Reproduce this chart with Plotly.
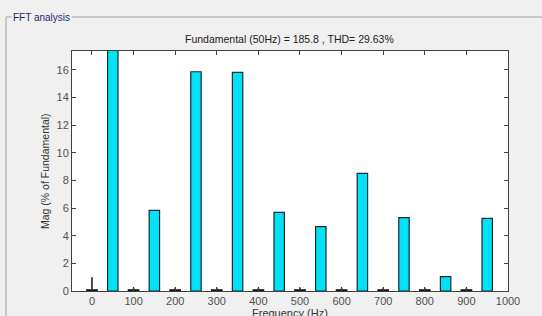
import plotly.graph_objects as go

# Data
odd_freqs = [50, 150, 250, 350, 450, 550, 650, 750, 850, 950]
odd_mag = [100.0, 5.83, 15.85, 15.8, 5.68, 4.65, 8.5, 5.3, 1.04, 5.25]
even_freqs = [0, 100, 200, 300, 400, 500, 600, 700, 800, 900]
even_mag = [0.08, 0.08, 0.08, 0.08, 0.08, 0.08, 0.08, 0.08, 0.08, 0.08]
even_stem = [1.0, 0.25, 0.25, 0.25, 0.25, 0.25, 0.25, 0.25, 0.25, 0.25]
x_ticks = [0, 100, 200, 300, 400, 500, 600, 700, 800, 900, 1000]
y_ticks = [0, 2, 4, 6, 8, 10, 12, 14, 16]

title_text = "Fundamental (50Hz) = 185.8 , THD= 29.63%"
x_title = "Frequency (Hz)"
y_title = "Mag (% of Fundamental)"

fig = go.Figure()
fig.add_trace(go.Bar(x=odd_freqs, y=odd_mag, width=25,
                     marker=dict(color="#00e1fa", line=dict(color="#1a2a30", width=1.2)),
                     showlegend=False))
fig.add_trace(go.Bar(x=even_freqs, y=even_mag, width=25,
                     marker=dict(color="#00e1fa", line=dict(color="#101010", width=1.3)),
                     showlegend=False))
sx, sy = [], []
for f, v in zip(even_freqs, even_stem):
    sx += [f, f, None]
    sy += [0, v, None]
fig.add_trace(go.Scatter(x=sx, y=sy, mode="lines", line=dict(color="#101010", width=1.5),
                         showlegend=False, hoverinfo="skip"))

axis_common = dict(showline=True, linecolor="#404040", linewidth=1, mirror="allticks",
                   ticks="inside", ticklen=4, tickcolor="#404040", showgrid=False,
                   zeroline=False, automargin=False, tickfont=dict(size=11, color="#505050"))
fig.update_xaxes(range=[-48, 1000], tickvals=x_ticks, **axis_common)
fig.update_yaxes(range=[0, 17.35], tickvals=y_ticks, **axis_common)

fig.update_layout(
    width=542, height=316,
    margin=dict(l=72, r=34, t=51, b=25),
    paper_bgcolor="#f0f0f0", plot_bgcolor="#ffffff",
    font=dict(family="Liberation Sans, Arial, sans-serif", size=11, color="#222222"),
    barmode="overlay",
)
plot_w = 542 - 72 - 34
plot_h = 316 - 51 - 25
def px_x(p):
    return (p - 72) / plot_w
def px_y(p):
    return (316 - 25 - p) / plot_h
fig.layout.shapes = [
    dict(type="line", xref="paper", yref="paper", x0=px_x(6), x1=px_x(545), y0=px_y(17), y1=px_y(17),
         line=dict(color="#a0a0a0", width=1)),
    dict(type="line", xref="paper", yref="paper", x0=px_x(6), x1=px_x(6), y0=px_y(17), y1=px_y(320),
         line=dict(color="#a0a0a0", width=1)),
]
fig.add_annotation(text="FFT analysis", xref="paper", yref="paper", x=px_x(11), y=px_y(17),
                   xanchor="left", yanchor="middle", showarrow=False, bgcolor="#f0f0f0",
                   font=dict(size=10, color="#1c2a6a"), borderpad=1)
fig.add_annotation(text=title_text, xref="paper", yref="paper", x=px_x(289), y=px_y(39),
                   xanchor="center", yanchor="middle", showarrow=False,
                   font=dict(size=10.5, color="#222222"))
fig.add_annotation(text=x_title, xref="paper", yref="paper", x=px_x(290), y=px_y(313),
                   xanchor="center", yanchor="middle", showarrow=False,
                   font=dict(size=11, color="#333333"))
fig.add_annotation(text=y_title, xref="paper", yref="paper", x=px_x(45), y=px_y(171),
                   xanchor="center", yanchor="middle", showarrow=False, textangle=-90,
                   font=dict(size=10.5, color="#333333"))

fig.write_html("out.html", config={"displayModeBar": False},
               post_script="document.body.style.margin='0';document.body.style.overflow='hidden';")
